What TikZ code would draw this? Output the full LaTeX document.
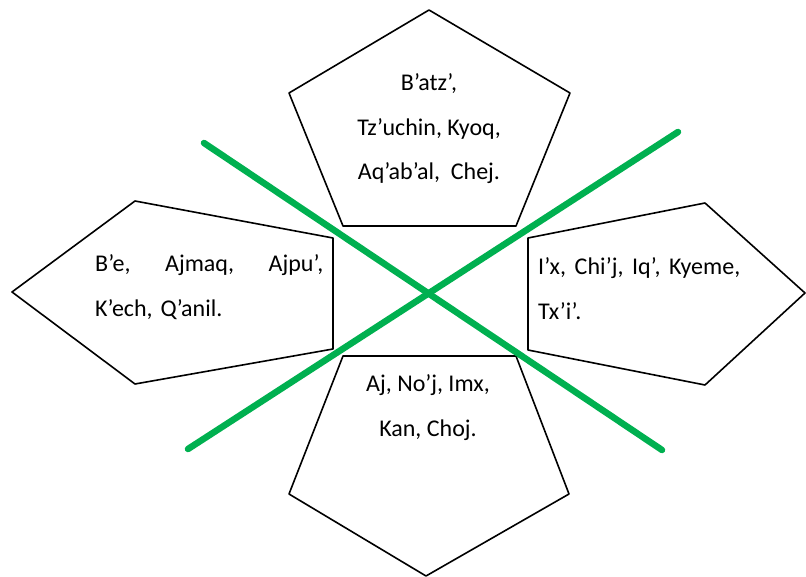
\documentclass[tikz,border=0pt]{standalone}
\usepackage{fontspec}
\setmainfont{Carlito}
\usepackage{tkz-euclide}
\definecolor{crossgreen}{RGB}{0,176,80}
\tikzset{daynames/.style={font=\fontsize{24}{44.5}\selectfont,inner sep=0pt,anchor=base}}

\begin{document}
\begin{tikzpicture}[x=1pt,y=-1pt]
\useasboundingbox (0,0) rectangle (806,577);

% top
\tkzDefPoint(429,10){T1}
\tkzDefPoint(570,93){T2}
\tkzDefPoint(516,226){T3}
\tkzDefPoint(343,226){T4}
\tkzDefPoint(289,93){T5}
% left
\tkzDefPoint(12,292){L1}
\tkzDefPoint(135,201){L2}
\tkzDefPoint(333,238){L3}
\tkzDefPoint(333,349){L4}
\tkzDefPoint(135,384){L5}
% right
\tkzDefPoint(805,293){R1}
\tkzDefPoint(705,203){R2}
\tkzDefPoint(528,238){R3}
\tkzDefPoint(528,350){R4}
\tkzDefPoint(705,385){R5}
% bottom
\tkzDefPoint(426,576){B1}
\tkzDefPoint(569,494){B2}
\tkzDefPoint(516,356){B3}
\tkzDefPoint(343,356){B4}
\tkzDefPoint(289,494){B5}

\tkzDrawPolygon[line width=1.6pt,color=black](T1,T2,T3,T4,T5)
\tkzDrawPolygon[line width=1.6pt,color=black](L1,L2,L3,L4,L5)
\tkzDrawPolygon[line width=1.6pt,color=black](R1,R2,R3,R4,R5)
\tkzDrawPolygon[line width=1.6pt,color=black](B1,B2,B3,B4,B5)

\node[daynames,align=center] (topnames) at (429,180) {B’atz’,\\Tz’uchin, Kyoq,\\Aq’ab’al,\ \ Chej.};
\node[daynames,align=left,text width=228pt,anchor=base west] (leftnames) at (95,272)
  {B’e,\hfill Ajmaq,\hfill Ajpu’,\\K’ech, Q’anil.};
\node[daynames,align=left,text width=202pt,anchor=base west] (rightnames) at (538,275)
  {I’x,\hfill Chi’j,\hfill Iq’,\hfill Kyeme,\\Tx’i’.};
\node[daynames,align=center] (bottomnames) at (428,436) {Aj, No’j, Imx,\\Kan, Choj.};

% the cross
\tkzDefPoint(204,143){G1}
\tkzDefPoint(662,450){G2}
\tkzDefPoint(188,449){G3}
\tkzDefPoint(678,132){G4}
\tkzDrawSegments[line width=6.5pt,color=crossgreen](G1,G2 G3,G4)

\end{tikzpicture}
\end{document}
